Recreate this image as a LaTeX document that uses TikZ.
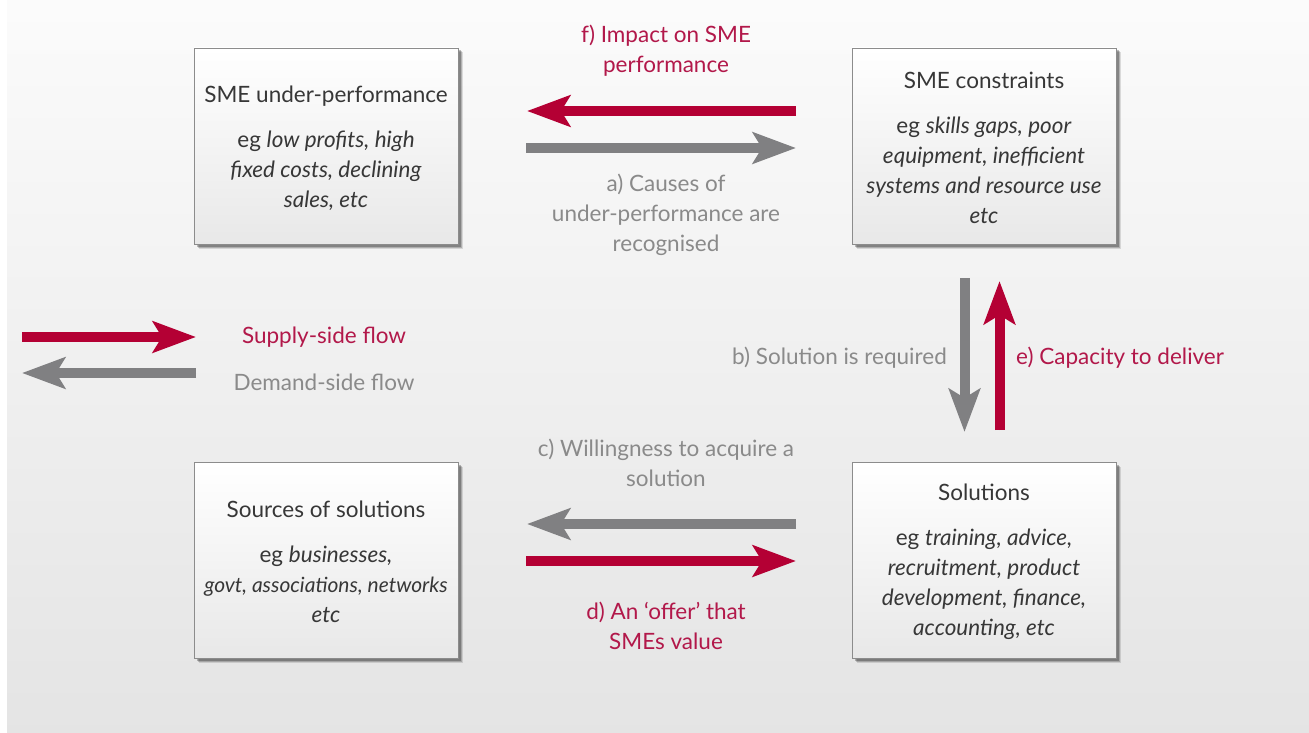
\documentclass[tikz,border=0pt]{standalone}
\usepackage{fontspec}
\setmainfont{Lato}
\usetikzlibrary{arrows.meta,shadows}
\definecolor{supred}{RGB}{180,0,52}
\definecolor{supredtext}{RGB}{178,24,74}
\definecolor{demgray}{RGB}{128,128,130}
\definecolor{demgraytext}{RGB}{138,138,138}
\definecolor{boxtext}{RGB}{55,55,55}
\definecolor{boxborder}{RGB}{140,140,140}
\tikzset{
  x=1pt, y=-1pt,
  txt/.style={font=\fontsize{22.5}{30}\selectfont, align=center, inner sep=0pt},
  infobox/.style={txt, text=boxtext, draw=boxborder, line width=0.8pt,
    top color=white, bottom color=black!9, minimum width=264pt, minimum height=196pt,
    drop shadow={shadow xshift=4.5pt,shadow yshift=-4.5pt,opacity=.12,fill=black},
    drop shadow={shadow xshift=3.5pt,shadow yshift=-3.5pt,opacity=.18,fill=black},
    drop shadow={shadow xshift=2.5pt,shadow yshift=-2.5pt,opacity=.25,fill=black}},
  boxtxt/.style={txt, text=boxtext},
  redlbl/.style={txt, text=supredtext},
  graylbl/.style={txt, text=demgraytext},
  flow/.style={line width=10pt, -{Stealth[length=43pt,width=31pt,inset=9pt]}},
  supply/.style={flow, draw=supred, fill=supred},
  demand/.style={flow, draw=demgray, fill=demgray},
}
\begin{document}
\begin{tikzpicture}
\useasboundingbox (0,0) rectangle (1309,733);
\fill[white] (0,0) rectangle (1309,733);
\shade[top color=black!1.5, bottom color=black!10.5] (7,0) rectangle (1309,733);

% boxes
\node[infobox] (under) at (326,146) {};
\node[infobox] (constr) at (984,146) {};
\node[infobox] (sources) at (326,560) {};
\node[infobox] (solutions) at (984,560) {};

\node[boxtxt] (underT) at (326,148) {SME under-performance\\[15pt]
  eg \textit{low profits, high}\\ \textit{fixed costs, declining}\\ \textit{sales, etc}};
\node[boxtxt] (constrT) at (984,148) {SME constraints\\[15pt]
  eg \textit{skills gaps, poor}\\ \textit{equipment, inefficient}\\ \textit{systems and resource use}\\ \textit{etc}};
\node[boxtxt] (sourcesT) at (326,562) {Sources of solutions\\[15pt]
  eg \textit{businesses,}\\ {\fontsize{21}{30}\selectfont\textit{govt, associations, networks}}\\ \textit{etc}};
\node[boxtxt] (solutionsT) at (984,562) {Solutions\\[15pt]
  eg \textit{training, advice,}\\ \textit{recruitment, product}\\ \textit{development, finance,}\\ \textit{accounting, etc}};

% arrow end points
\coordinate (fR) at (796,111); \coordinate (fL) at (527,111);
\coordinate (aL) at (526,148); \coordinate (aR) at (796,148);
\coordinate (bT) at (964.5,278); \coordinate (bB) at (964.5,432);
\coordinate (eB) at (999.5,430); \coordinate (eT) at (999.5,281);
\coordinate (cR) at (796,524); \coordinate (cL) at (527,524);
\coordinate (dL) at (526,561); \coordinate (dR) at (796,561);
\coordinate (sL) at (22,337); \coordinate (sR) at (196,337);
\coordinate (gR) at (196,373); \coordinate (gL) at (22,373);

\draw[supply] (fR) -- (fL);
\draw[demand] (aL) -- (aR);
\draw[demand] (bT) -- (bB);
\draw[supply] (eB) -- (eT);
\draw[demand] (cR) -- (cL);
\draw[supply] (dL) -- (dR);
\draw[supply] (sL) -- (sR);
\draw[demand] (gR) -- (gL);

% labels
\node[redlbl] (lf) at (666,51) {f) Impact on SME\\ performance};
\node[graylbl] (la) at (666,215) {a) Causes of\\ under-performance are\\ recognised};
\node[graylbl, anchor=east] (lb) at (947,358) {b) Solution is required};
\node[redlbl, anchor=west] (le) at (1016,358) {e) Capacity to deliver};
\node[graylbl] (lc) at (666,463) {c) Willingness to acquire a\\ solution};
\node[redlbl] (ld) at (666,626) {d) An `offer' that\\ SMEs value};
\node[redlbl] (ls) at (324,337) {Supply-side flow};
\node[graylbl] (lg) at (324,382) {Demand-side flow};
\end{tikzpicture}
\end{document}
